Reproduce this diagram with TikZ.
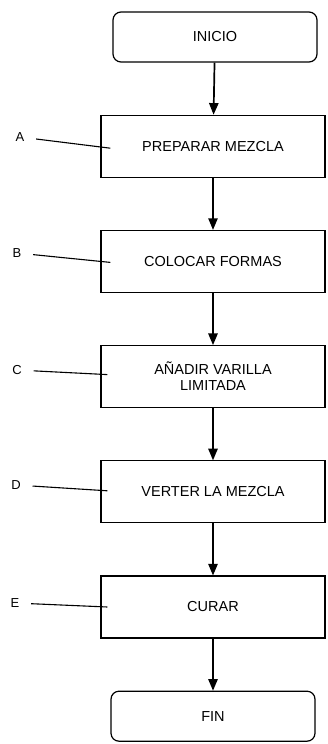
\documentclass[tikz,border=0pt]{standalone}
\usepackage{fontspec}
\setmainfont{Liberation Sans}
\usepackage{tikz}
\usetikzlibrary{positioning, arrows}

\tikzset{
    paso/.style={draw, rectangle, line width=1.2pt, minimum width=224pt, minimum height=62pt, align=center, font=\fontsize{14.5}{16}\selectfont},
    extremo/.style={draw, rectangle, line width=1.2pt, rounded corners=8pt, minimum width=204pt, minimum height=50pt, font=\fontsize{14.5}{16}\selectfont},
    etiq/.style={inner sep=1pt, font=\fontsize{13}{15}\selectfont}
}

\begin{document}
\begin{tikzpicture}[->, >=triangle 45, line width=1.7pt, x=1pt, y=1pt, node distance=52pt]
    \useasboundingbox (0,0) rectangle (328,-744);
    % pasos del proceso
    \node[extremo] (inicio) at (215,-37) {INICIO};
    \node[paso, below=of inicio, xshift=-2pt] (a) {PREPARAR MEZCLA};
    \node[paso, below=of a] (b) {COLOCAR FORMAS};
    \node[paso, below=of b] (c) {AÑADIR VARILLA\\LIMITADA};
    \node[paso, below=of c] (d) {VERTER LA MEZCLA};
    \node[paso, below=of d] (e) {CURAR};
    \node[extremo, below=of e] (fin) {FIN};
    \draw (inicio) -- (a);
    \draw (a) -- (b);
    \draw (b) -- (c);
    \draw (c) -- (d);
    \draw (d) -- (e);
    \draw (e) -- (fin);
    % etiquetas
    \node[etiq] (la) at (20,-137) {A};
    \node[etiq] (lb) at (17,-253) {B};
    \node[etiq] (lc) at (17,-370) {C};
    \node[etiq] (ld) at (16,-485) {D};
    \node[etiq] (le) at (15,-603) {E};
    \draw[-, line width=1.1pt, shorten <=10pt] (la) -- ([xshift=10pt, yshift=-2pt]a.west);
    \draw[-, line width=1.1pt, shorten <=10pt] (lb) -- ([xshift=10pt, yshift=-1pt]b.west);
    \draw[-, line width=1.1pt, shorten <=10pt] (lc) -- ([xshift=7pt, yshift=2pt]c.west);
    \draw[-, line width=1.1pt, shorten <=10pt] (ld) -- ([xshift=7pt, yshift=1pt]d.west);
    \draw[-, line width=1.1pt, shorten <=10pt] (le) -- ([xshift=7pt, yshift=0pt]e.west);
\end{tikzpicture}
\end{document}
